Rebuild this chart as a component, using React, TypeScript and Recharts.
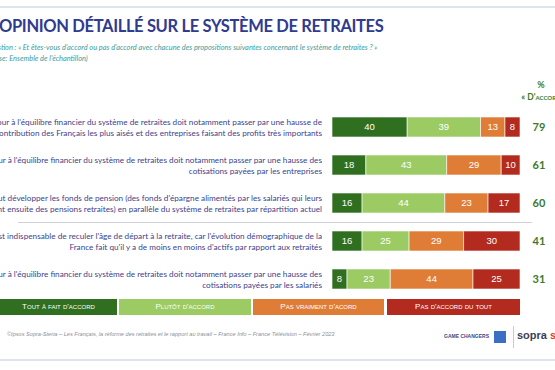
import { BarChart, Bar, XAxis, YAxis, LabelList } from "recharts";

const statementLines = [
  [
    "Le retour à l'équilibre financier du système de retraites doit notamment passer par une hausse de",
    "la contribution des Français les plus aisés et des entreprises faisant des profits très importants",
  ],
  [
    "Le retour à l'équilibre financier du système de retraites doit notamment passer par une hausse des",
    "cotisations payées par les entreprises",
  ],
  [
    "Il faut développer les fonds de pension (des fonds d'épargne alimentés par les salariés qui leurs",
    "versent ensuite des pensions retraites) en parallèle du système de retraites par répartition actuel",
  ],
  [
    "Il est indispensable de reculer l'âge de départ à la retraite, car l'évolution démographique de la",
    "France fait qu'il y a de moins en moins d'actifs par rapport aux retraités",
  ],
  [
    "Le retour à l'équilibre financier du système de retraites doit notamment passer par une hausse des",
    "cotisations payées par les salariés",
  ],
];

const toutAFait = [40, 18, 16, 16, 8];
const plutot = [39, 43, 44, 25, 23];
const pasVraiment = [13, 29, 23, 29, 44];
const pasDuTout = [8, 10, 17, 30, 25];

const legendLabels = [
  "Tout à fait d'accord",
  "Plutôt d'accord",
  "Pas vraiment d'acord",
  "Pas d'accord du tout",
];
const colors = ["#2f6f1f", "#9bcb62", "#df7d37", "#b32a1f"];

const data = statementLines.map((_, i) => ({
  id: String(i),
  toutAFait: toutAFait[i],
  plutot: plutot[i],
  pasVraiment: pasVraiment[i],
  pasDuTout: pasDuTout[i],
  total: toutAFait[i] + plutot[i],
}));

const font = "Lato, 'Open Sans', sans-serif";

function StatementTick(props: any) {
  const { x, y, payload } = props;
  const lines = statementLines[Number(payload.value)];
  return (
    <text
      x={x}
      y={y}
      textAnchor="end"
      fill="#3b3f8c"
      fontSize={8.2}
      fontFamily={font}
    >
      <tspan x={x} dy={-2.5}>
        {lines[0]}
      </tspan>
      <tspan x={x} dy={11.5}>
        {lines[1]}
      </tspan>
    </text>
  );
}

function TotalLabel(props: any) {
  const { x, y, width, height, index } = props;
  return (
    <text
      x={x + width + 19}
      y={y + height / 2 + 4}
      textAnchor="middle"
      fill="#3d7a2b"
      fontSize={11}
      fontWeight="bold"
      fontFamily={font}
    >
      {data[index].total}
    </text>
  );
}

const segLabel = {
  fill: "#fff",
  fontSize: 9.5,
  fontFamily: "Arial, 'Liberation Sans', sans-serif",
};

export default function App() {
  return (
    <div
      style={{
        position: "absolute",
        left: 0,
        top: 0,
        width: 555,
        height: 370,
        background: "#fff",
        overflow: "hidden",
        fontFamily: font,
      }}
    >
      <div style={{ position: "absolute", left: 0, right: 0, top: 6, borderTop: "2px solid #dfe4ea" }} />
      <div
        style={{
          position: "absolute",
          left: -1,
          top: 16,
          fontSize: 16.5,
          fontWeight: 700,
          color: "#2f3b8f",
          whiteSpace: "nowrap",
          letterSpacing: -0.35,
        }}
      >
        OPINION DÉTAILLÉ SUR LE SYSTÈME DE RETRAITES
      </div>
      <div
        style={{
          position: "absolute",
          left: -15,
          top: 42,
          fontSize: 7.4,
          fontStyle: "italic",
          color: "#3e9a9a",
          whiteSpace: "nowrap",
          lineHeight: "11px",
        }}
      >
        Question : « Et êtes-vous d'accord ou pas d'accord avec chacune des propositions suivantes concernant le système de retraites ? »
        <br />
        <span style={{ marginLeft: 4 }}>(Base: Ensemble de l'échantillon)</span>
      </div>
      <div
        style={{
          position: "absolute",
          left: 521,
          width: 40,
          top: 79,
          textAlign: "center",
          color: "#3d7a2b",
          fontWeight: 700,
          fontSize: 9,
          lineHeight: "12px",
          whiteSpace: "nowrap",
        }}
      >
        %
        <br />
        <span style={{ fontVariant: "small-caps", fontSize: 8.5 }}>« D'accord</span>
      </div>
      <div style={{ position: "absolute", left: 18, width: 514, top: 222, borderTop: "1px solid #cfd3d8" }} />

      <div style={{ position: "absolute", left: 0, top: 0 }}>
        <BarChart
          width={555}
          height={370}
          data={data}
          layout="vertical"
          margin={{ top: 108, right: 35, bottom: 72, left: 0 }}
          barSize={20}
        >
          <XAxis type="number" domain={[0, 100]} hide />
          <YAxis
            type="category"
            dataKey="id"
            width={332}
            tickSize={0}
            tickMargin={10}
            axisLine={false}
            tickLine={false}
            tick={<StatementTick />}
          />
          <Bar dataKey="toutAFait" stackId="a" fill={colors[0]} stroke="#fff" strokeWidth={0.6} isAnimationActive={false}>
            <LabelList dataKey="toutAFait" position="center" style={segLabel} />
          </Bar>
          <Bar dataKey="plutot" stackId="a" fill={colors[1]} stroke="#fff" strokeWidth={0.6} isAnimationActive={false}>
            <LabelList dataKey="plutot" position="center" style={segLabel} />
          </Bar>
          <Bar dataKey="pasVraiment" stackId="a" fill={colors[2]} stroke="#fff" strokeWidth={0.6} isAnimationActive={false}>
            <LabelList dataKey="pasVraiment" position="center" style={segLabel} />
          </Bar>
          <Bar dataKey="pasDuTout" stackId="a" fill={colors[3]} stroke="#fff" strokeWidth={0.6} isAnimationActive={false}>
            <LabelList dataKey="pasDuTout" position="center" style={segLabel} />
            <LabelList dataKey="total" content={<TotalLabel />} />
          </Bar>
        </BarChart>
      </div>

      {legendLabels.map((l, i) => {
        const lefts = [0, 119, 253, 387];
        const widths = [117, 132, 131, 133];
        return (
          <div
            key={l}
            style={{
              position: "absolute",
              left: lefts[i],
              width: widths[i],
              top: 299,
              height: 16,
              background: colors[i],
              color: "#fff",
              fontSize: 8,
              fontFamily: "Arial, 'Liberation Sans', sans-serif",
              fontVariant: "small-caps",
              textAlign: "center",
              lineHeight: "16px",
              whiteSpace: "nowrap",
            }}
          >
            {l}
          </div>
        );
      })}

      <div
        style={{
          position: "absolute",
          left: 7,
          top: 331,
          fontSize: 5.6,
          fontStyle: "italic",
          color: "#8a8f98",
          fontFamily: "Arial, 'Liberation Sans', sans-serif",
          whiteSpace: "nowrap",
        }}
      >
        ©Ipsos Sopra-Steria – Les Français, la réforme des retraites et le rapport au travail – France Info – France Télévision – Février 2023
      </div>
      <div
        style={{
          position: "absolute",
          left: 444,
          top: 333,
          fontSize: 5,
          fontWeight: 700,
          color: "#3a4a8a",
          fontFamily: "Arial, 'Liberation Sans', sans-serif",
          whiteSpace: "nowrap",
        }}
      >
        GAME CHANGERS
      </div>
      <div style={{ position: "absolute", left: 494, top: 331, width: 12, height: 12, background: "#3b6fc4" }} />
      <div style={{ position: "absolute", left: 513, top: 326, height: 22, borderLeft: "1px solid #c8ccd2" }} />
      <div
        style={{
          position: "absolute",
          left: 517,
          top: 329,
          fontSize: 11,
          fontWeight: 700,
          color: "#3b3f55",
          fontFamily: "Arial, 'Liberation Sans', sans-serif",
          whiteSpace: "nowrap",
        }}
      >
        sopra <span style={{ color: "#d9412b" }}>s</span>teria
      </div>
      <div style={{ position: "absolute", left: 0, right: 0, top: 359, borderTop: "2px solid #dfe4ea" }} />
    </div>
  );
}
